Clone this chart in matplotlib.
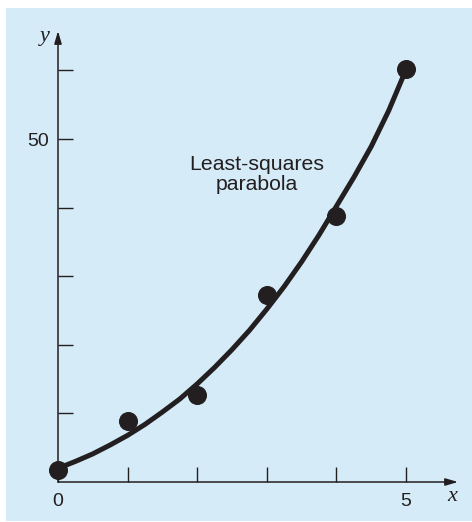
import numpy as np
import matplotlib
matplotlib.use('Agg')
import matplotlib.pyplot as plt
from matplotlib.patches import Rectangle

# data points
x_data = [0, 1, 2, 3, 4, 5]
y_data = [1.7, 8.9, 12.7, 27.3, 38.8, 60.2]

# least-squares parabola, as traced on the figure
curve_x = [0, 0.25, 0.5, 0.75, 1.0, 1.25, 1.5, 1.75, 2.0, 2.25, 2.5,
           2.75, 3.0, 3.25, 3.5, 3.75, 4.0, 4.25, 4.5, 4.75, 5.0]
curve_y = [2.0, 3.0, 4.1, 5.4, 6.8, 8.4, 10.2, 12.1, 14.3, 16.7, 19.3,
           22.1, 25.2, 28.5, 32.1, 36.0, 40.2, 44.4, 48.9, 54.1, 60.1]

x_ticks = [0, 1, 2, 3, 4, 5]
x_ticklabels = ['0', '', '', '', '', '5']
y_ticks = [10, 20, 30, 40, 50, 60]
y_ticklabels = ['', '', '', '', '50', '']

ink = '#231f20'
bg = '#d5ebf8'
W, H = 472, 522

fig = plt.figure(figsize=(W / 100, H / 100), dpi=100)
fig.patch.set_facecolor('white')
fig.patches.append(Rectangle((6 / W, 1 / H), 1, 1 - 9 / H, transform=fig.transFigure,
                             facecolor=bg, edgecolor='none', zorder=-10))

# axes placed so the origin sits at pixel (58, 482)
ax = fig.add_axes([58 / W, (H - 482) / H, 400 / W, 451 / H])
ax.set_facecolor('none')
ax.set_xlim(0, 400 / 69.6)
ax.set_ylim(0, 451 / 6.86)
for s in ax.spines.values():
    s.set_visible(False)

# axis lines with arrows
arrow = dict(arrowstyle='-|>,head_length=0.75,head_width=0.22', color=ink, lw=1.1,
             shrinkA=0, shrinkB=0)
ax.annotate('', xy=(ax.get_xlim()[1], 0), xytext=(0, 0), arrowprops=arrow,
            annotation_clip=False)
ax.annotate('', xy=(0, ax.get_ylim()[1]), xytext=(0, 0), arrowprops=arrow,
            annotation_clip=False)

ax.set_xticks(x_ticks)
ax.set_xticklabels(x_ticklabels)
ax.set_yticks(y_ticks)
ax.set_yticklabels(y_ticklabels)
ax.tick_params(direction='in', length=11, width=1.0, color=ink, labelcolor=ink,
               labelsize=14)
ax.tick_params(axis='x', pad=8)
ax.tick_params(axis='y', pad=6.5)
for lab in ax.get_xticklabels() + ax.get_yticklabels():
    lab.set_fontfamily('Liberation Sans')

# fitted curve and data
ax.plot(curve_x, curve_y, color=ink, lw=3.6, solid_capstyle='round',
        solid_joinstyle='round', clip_on=False, zorder=3)
ax.plot(x_data, y_data, 'o', color=ink, ms=12.7, clip_on=False, zorder=4)

ax.text(2.86, 44.8, 'Least-squares\nparabola', ha='center', va='center',
        fontsize=15.3, color=ink, family='Liberation Sans', linespacing=1.05)

ax.text(-0.19, 65.0, 'y', fontsize=16, style='italic',
        family='Liberation Serif', color=ink, ha='center', va='center')
ax.text(5.66, -2.1, 'x', fontsize=16, style='italic',
        family='Liberation Serif', color=ink, ha='center', va='center')

fig.savefig('out.png', dpi=100, facecolor=fig.get_facecolor())
